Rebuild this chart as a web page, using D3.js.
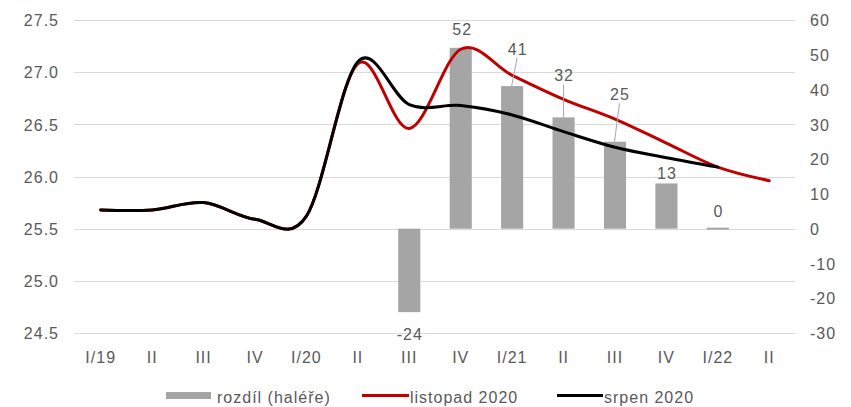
<!DOCTYPE html>
<html>
<head>
<meta charset="utf-8">
<script src="https://cdn.jsdelivr.net/npm/d3@7"></script>
<style>
  html, body { margin: 0; padding: 0; background: #fff; }
  svg text { font-family: "Liberation Sans", Arial, sans-serif; font-size: 16px; fill: #595959; letter-spacing: 1px; }
</style>
</head>
<body>
<svg id="chart" width="851" height="407"></svg>
<script>
// Quarters on the horizontal axis
const categories = ["I/19", "II", "III", "IV", "I/20", "II", "III", "IV", "I/21", "II", "III", "IV", "I/22", "II"];
const categoryKeys = categories.map((c, i) => i);

// Exchange-rate paths (left axis, CZK/EUR)
const listopad2020 = [25.68, 25.68, 25.75, 25.59, 25.62, 27.08, 26.46, 27.22, 26.97, 26.74, 26.55, 26.32, 26.09, 25.96];
const srpen2020 = [25.68, 25.68, 25.75, 25.59, 25.62, 27.10, 26.69, 26.68, 26.59, 26.43, 26.28, 26.18, 26.09];

// Difference between the two forecasts (right axis, haléře)
const diffIndex = [6, 7, 8, 9, 10, 11, 12];
const diffValues = [-24, 52, 41, 32, 25, 13, 0];

// Axis tick values
const leftTicks = [24.5, 25.0, 25.5, 26.0, 26.5, 27.0, 27.5];
const rightTicks = [-30, -20, -10, 0, 10, 20, 30, 40, 50, 60];

// Legend entries
const legendLabels = ["rozdíl (haléře)", "listopad 2020", "srpen 2020"];

// Label placement for the difference values: [dx, gap from bar end, leader line]
const labelLayout = [[0, -27.5, false], [1, 13, false], [5, 31.5, true], [0, 36, true], [4.5, 41.5, true], [0, 4.5, false], [0, 12, false]];

const svg = d3.select("#chart");
const plotLeft = 75, plotRight = 795, plotTop = 20, plotBottom = 333;
const plainNumber = d => String(d);

const x = d3.scaleBand().domain(categoryKeys).range([plotLeft, plotRight]).paddingInner(0.57).paddingOuter(0.285);
const cx = i => x(i) + x.bandwidth() / 2;
const yL = d3.scaleLinear().domain([24.5, 27.5]).range([plotBottom, plotTop]);
const yR = d3.scaleLinear().domain([-30, 60]).range([plotBottom, plotTop]);

// Horizontal gridlines at the left-axis ticks
svg.append("g").selectAll("line").data(leftTicks).join("line")
  .attr("x1", plotLeft - 1).attr("x2", plotRight)
  .attr("y1", d => Math.round(yL(d)) + 0.5).attr("y2", d => Math.round(yL(d)) + 0.5)
  .attr("stroke", "#d9d9d9").attr("stroke-width", 1);

// Left axis
const gL = svg.append("g").attr("transform", `translate(${plotLeft - 16},0)`)
  .call(d3.axisLeft(yL).tickValues(leftTicks).tickFormat(d => d.toFixed(1)).tickSize(0).tickPadding(0));
gL.select(".domain").remove();
gL.selectAll("text").attr("dy", "0.36em");

// Right axis
const gR = svg.append("g").attr("transform", `translate(${plotRight + 15},0)`)
  .call(d3.axisRight(yR).tickValues(rightTicks).tickFormat(plainNumber).tickSize(0).tickPadding(0));
gR.select(".domain").remove();
gR.selectAll("text").attr("dy", "0.36em");

// Bottom axis
const gB = svg.append("g").attr("transform", `translate(0,${plotBottom})`)
  .call(d3.axisBottom(x).tickFormat(i => categories[i]).tickSize(0).tickPadding(0));
gB.select(".domain").remove();
gB.selectAll("text").attr("dy", null).attr("y", 30);

// Remove axis-level font settings so the stylesheet applies
svg.selectAll("g").attr("font-size", null).attr("font-family", null);

// Bars for the forecast difference (a zero value still shows as a thin sliver)
const barData = diffIndex.map((k, j) => ({ k, v: diffValues[j], lay: labelLayout[j] }));
svg.append("g").selectAll("rect").data(barData).join("rect")
  .attr("x", d => x(d.k))
  .attr("width", x.bandwidth())
  .attr("y", d => Math.min(yR(d.v), yR(0)) - (d.v === 0 ? 1 : 0))
  .attr("height", d => Math.max(Math.abs(yR(d.v) - yR(0)), 2))
  .attr("fill", "#a5a5a5");

// Lines (smoothed)
const line = d3.line().x((d, i) => cx(i)).y(d => yL(d)).curve(d3.curveCardinal.tension(0));
svg.append("path").datum(listopad2020).attr("d", line)
  .attr("fill", "none").attr("stroke", "#c00000").attr("stroke-width", 3).attr("stroke-linejoin", "round").attr("stroke-linecap", "round");
svg.append("path").datum(srpen2020).attr("d", line)
  .attr("fill", "none").attr("stroke", "#000000").attr("stroke-width", 3).attr("stroke-linejoin", "round").attr("stroke-linecap", "round");

// Value labels, with leader lines where they sit away from the bar
const lab = svg.append("g");
barData.forEach(d => {
  const [dx, gap, leader] = d.lay;
  const end = yR(d.v);
  const bx = cx(d.k);
  const ty = end - gap;
  if (leader) {
    lab.append("line")
      .attr("x1", bx + dx).attr("y1", ty + 3)
      .attr("x2", bx + (dx > 0 ? -0.5 : 0)).attr("y2", end)
      .attr("stroke", "#a6a6a6").attr("stroke-width", 1);
  }
  lab.append("text")
    .attr("x", bx + dx + 0.5).attr("y", ty)
    .attr("text-anchor", "middle")
    .text(plainNumber(d.v));
});

// Legend
const lg = svg.append("g");
lg.append("rect").attr("x", 166).attr("y", 392).attr("width", 45).attr("height", 7).attr("fill", "#a5a5a5");
lg.append("text").attr("x", 217).attr("y", 403).text(legendLabels[0]);
lg.append("line").attr("x1", 362).attr("x2", 409).attr("y1", 395.5).attr("y2", 395.5).attr("stroke", "#c00000").attr("stroke-width", 3);
lg.append("text").attr("x", 410).attr("y", 403).text(legendLabels[1]);
lg.append("line").attr("x1", 557).attr("x2", 603).attr("y1", 395.5).attr("y2", 395.5).attr("stroke", "#000000").attr("stroke-width", 3);
lg.append("text").attr("x", 604).attr("y", 403).text(legendLabels[2]);
</script>
</body>
</html>
